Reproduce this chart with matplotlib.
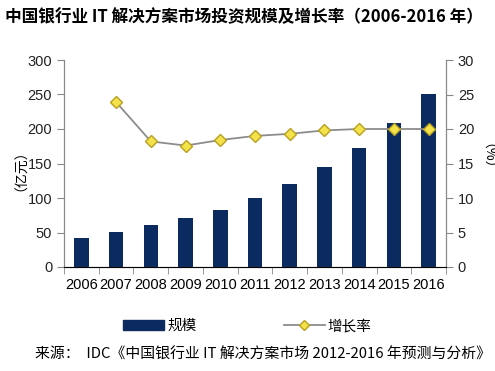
import numpy as np
import matplotlib as mpl
import matplotlib.pyplot as plt
from matplotlib.lines import Line2D
from matplotlib.patches import Patch

mpl.use('Agg')
plt.rcParams['font.family'] = ['Liberation Sans', 'Noto Sans CJK SC', 'DejaVu Sans']

years = ['2006', '2007', '2008', '2009', '2010', '2011', '2012', '2013', '2014', '2015', '2016']
scale = [42, 51, 61, 71, 83, 100, 120, 144.5, 172, 208, 250]
growth_years = years[1:]
growth = [23.9, 18.2, 17.6, 18.4, 19.0, 19.3, 19.8, 20.0, 20.0, 20.0]

BAR = "#0b2a5f"
AXC = "#888888"
CJK = ['Noto Sans CJK SC', 'DejaVu Sans']

fig = plt.figure(figsize=(4.95, 3.71), dpi=100)
ax = fig.add_axes([64/495, 1-267/371, (446-64)/495, (267-60)/371])
x = np.arange(len(years))
ax.bar(x, scale, width=0.42, color=BAR, zorder=2)
ax.set_xlim(-0.5, len(years)-0.5)
ax.set_ylim(0, 300)
ax.set_yticks(range(0, 301, 50))
ax.set_xticks(x)
ax.set_xticklabels(years)
ax.set_xticks(np.arange(-0.5, len(years), 1), minor=True)
ax.tick_params(axis='x', which='major', length=0, pad=8, labelsize=10.5)
ax.tick_params(axis='x', which='minor', length=5, color=AXC, direction='out')
ax.tick_params(axis='y', length=5, color=AXC, labelsize=10.5, labelcolor='#222222')
ax.spines['top'].set_visible(False)
for s in ['left', 'right', 'bottom']:
    ax.spines[s].set_color(AXC)

ax2 = ax.twinx()
ax2.plot(np.arange(1, len(years)), growth, color="#8c8c8c", lw=1.3, marker='D',
         markersize=6, markerfacecolor="#f3e24a", markeredgecolor="#b8a020", zorder=3)
ax2.set_ylim(0, 30)
ax2.set_yticks(range(0, 31, 5))
ax2.tick_params(axis='y', length=5, color=AXC, labelsize=10.5, labelcolor='#222222')
ax2.spines['top'].set_visible(False)
ax2.spines['right'].set_color(AXC)
ax2.spines['left'].set_color(AXC)

fig.text(14/495, 1-163/371, '（亿元）', family=CJK, fontsize=10, rotation=90,
         va='center', ha='center')
fig.text(480/495, 1-163/371, '（%）', family=CJK, fontsize=10, rotation=270,
         va='center', ha='center')

fig.text(5/495, 1-17/371, '中国银行业 IT 解决方案市场投资规模及增长率（2006-2016 年）',
         family=CJK, fontsize=12, fontweight='bold', va='center', ha='left')

handles = [Patch(facecolor=BAR, edgecolor=BAR),
           Line2D([0], [0], color="#8c8c8c", lw=1.3, marker='D', markersize=5,
                  markerfacecolor="#f3e24a", markeredgecolor="#b8a020")]
fig.legend(handles, ['规模', '增长率'], loc='center', bbox_to_anchor=(0.5, 1-326/371),
           ncol=2, frameon=False, prop={'family': CJK, 'size': 10.5}, columnspacing=6,
           handlelength=2.8, handletextpad=0.2)

fig.text(35/495, 1-355/371, '来源：  IDC《中国银行业 IT 解决方案市场 2012-2016 年预测与分析》',
         family=CJK, fontsize=10.7, va='center', ha='left')

fig.savefig('out.png', dpi=100)
